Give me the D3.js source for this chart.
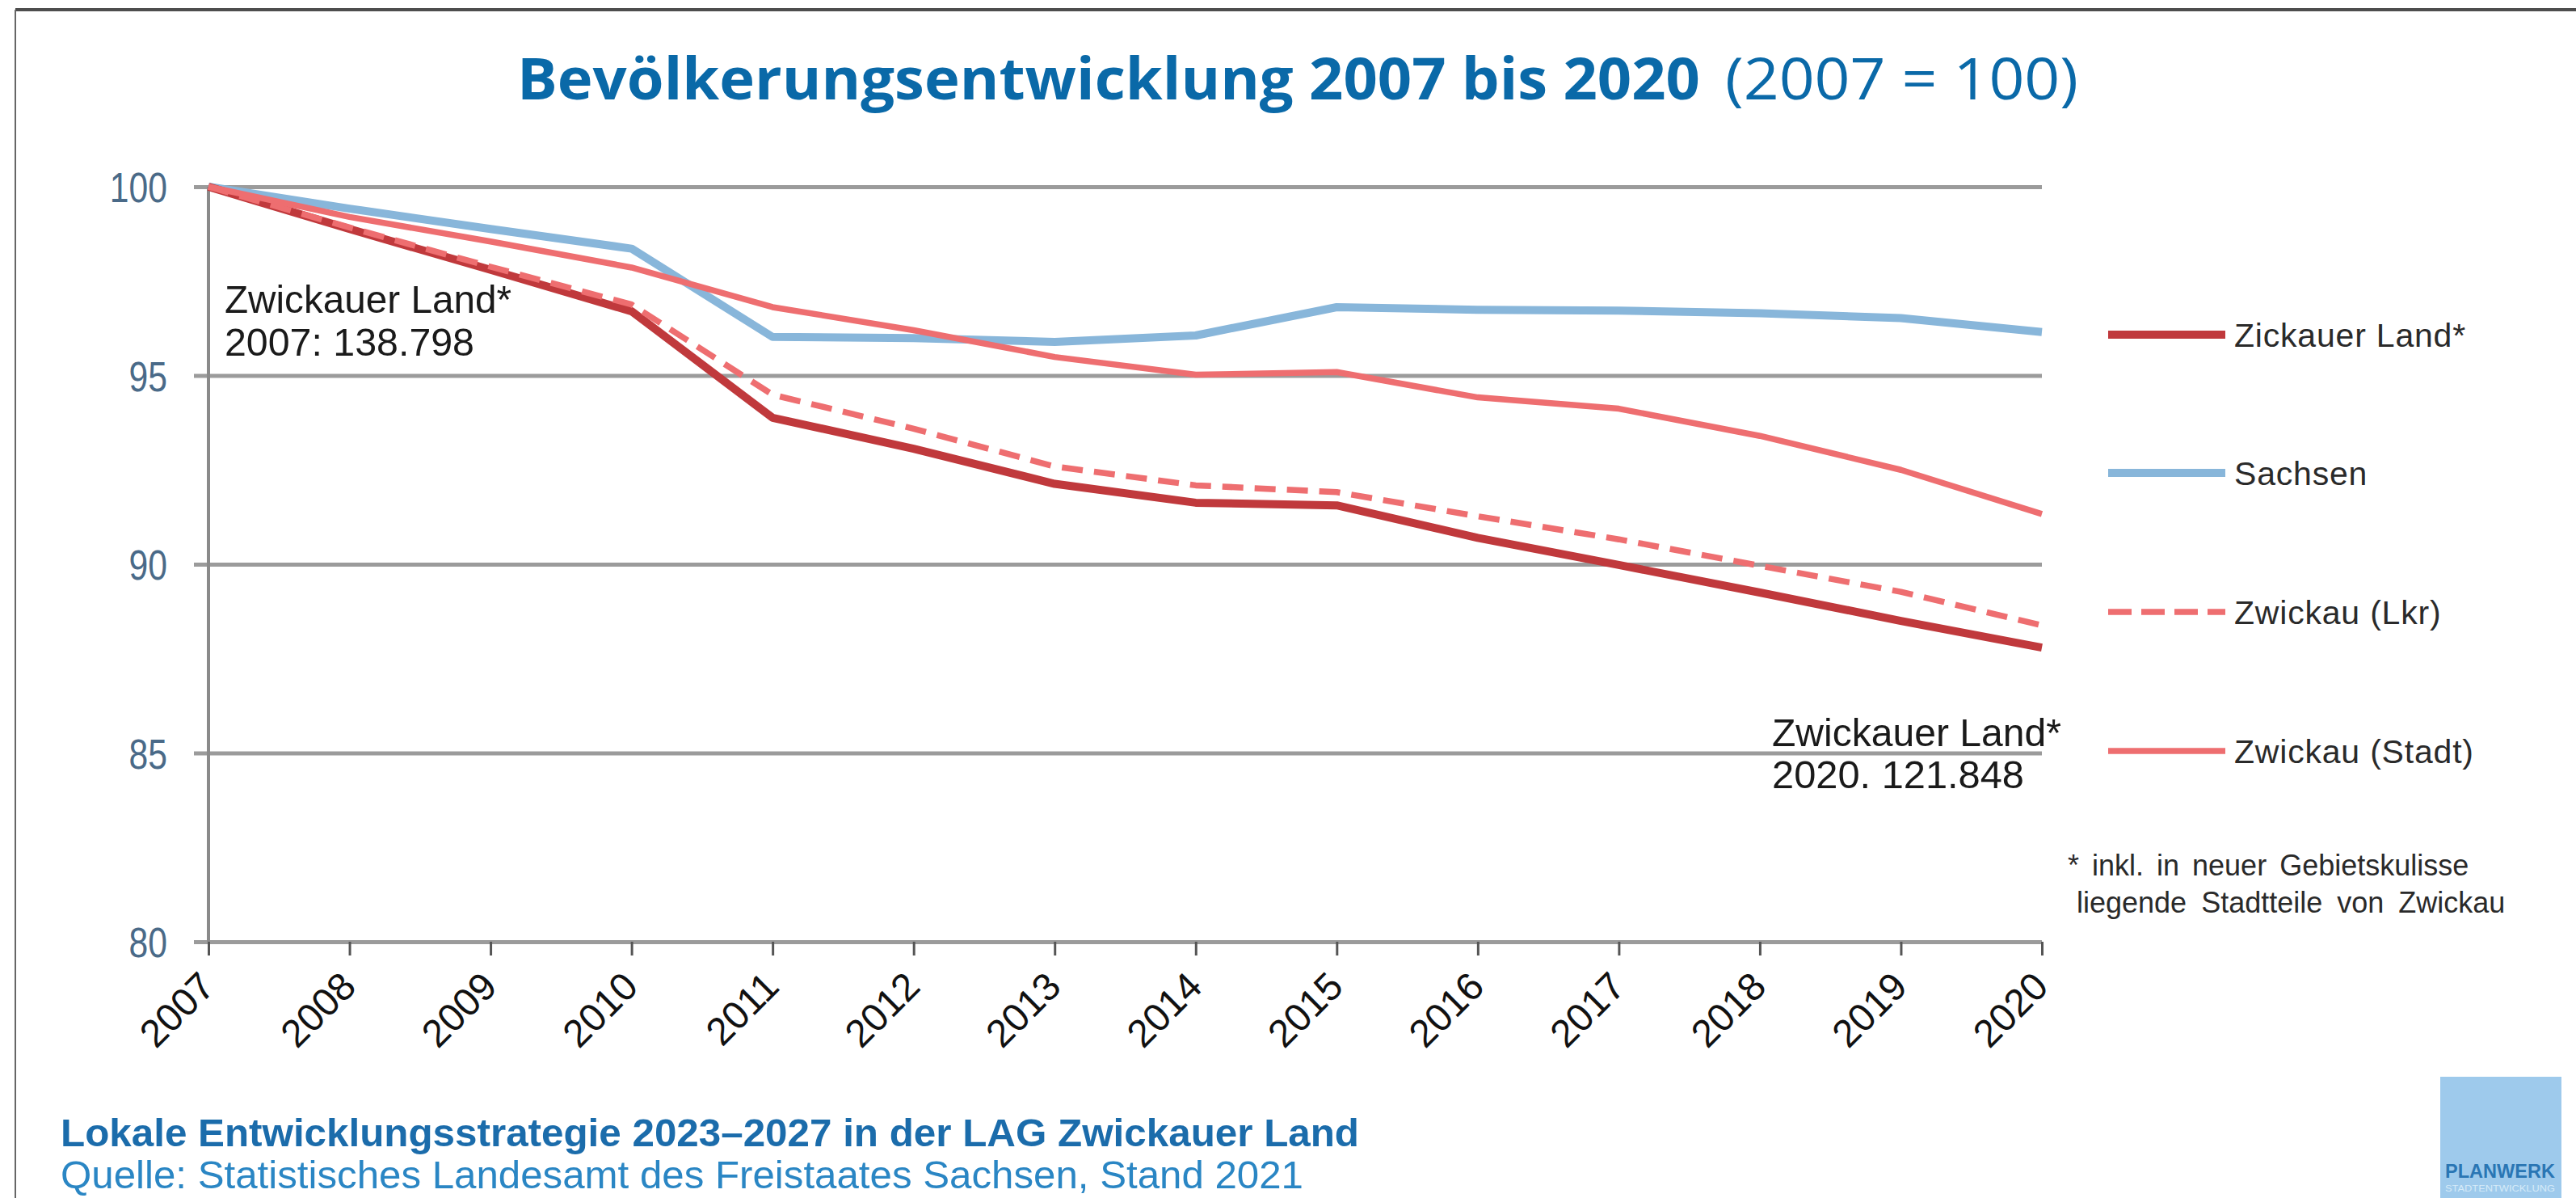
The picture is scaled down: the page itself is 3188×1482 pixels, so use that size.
<!DOCTYPE html>
<html>
<head>
<meta charset="utf-8">
<script src="https://cdn.jsdelivr.net/npm/d3@7"></script>
<style>
  html, body { margin: 0; padding: 0; background: #fff; }
  svg { display: block; }
</style>
</head>
<body>
<script>
// ---------- DATA ----------
const years = [2007, 2008, 2009, 2010, 2011, 2012, 2013, 2014, 2015, 2016, 2017, 2018, 2019, 2020];
const yTicks = [80, 85, 90, 95, 100];
const zwickauerLand = [100, 98.88, 97.8, 96.7, 93.88, 93.06, 92.13, 91.63, 91.56, 90.7, 89.98, 89.25, 88.5, 87.79];
const sachsen       = [100, 99.42, 98.88, 98.36, 96.02, 95.99, 95.89, 96.06, 96.81, 96.74, 96.72, 96.65, 96.52, 96.15];
const zwickauLkr    = [100, 98.92, 97.88, 96.88, 94.49, 93.59, 92.59, 92.09, 91.91, 91.27, 90.66, 89.96, 89.27, 88.38];
const zwickauStadt  = [100, 99.2, 98.55, 97.86, 96.81, 96.2, 95.49, 95.02, 95.09, 94.42, 94.12, 93.4, 92.5, 91.33];
const legendLabels  = ["Zickauer Land*", "Sachsen", "Zwickau (Lkr)", "Zwickau (Stadt)"];

// ---------- LAYOUT ----------
const W = 3188, H = 1482;
const narrow = "'Liberation Sans Narrow','Arial Narrow','Liberation Sans',Arial,sans-serif";
const arial = "'Liberation Sans',Arial,sans-serif";
const cond = "'Open Sans','Noto Sans',sans-serif";

const svg = d3.select("body").append("svg").attr("width", W).attr("height", H);
svg.append("rect").attr("width", W).attr("height", H).attr("fill", "#fff");

// frame
svg.append("line").attr("x1", 19).attr("x2", W).attr("y1", 12).attr("y2", 12)
  .attr("stroke", "#4d4d4d").attr("stroke-width", 4);
svg.append("line").attr("x1", 19).attr("x2", 19).attr("y1", 12).attr("y2", H)
  .attr("stroke", "#666").attr("stroke-width", 2);

// title
svg.append("text").attr("x", 640).attr("y", 123)
  .attr("font-family", cond).attr("font-weight", 700).attr("font-size", 72)
  .attr("fill", "#0a69a8").attr("textLength", 1464).attr("lengthAdjust", "spacingAndGlyphs")
  .text("Bevölkerungsentwicklung 2007 bis 2020");
svg.append("text").attr("x", 2135).attr("y", 123)
  .attr("font-family", cond).attr("font-weight", 400).attr("font-size", 72)
  .attr("fill", "#0a69a8").attr("textLength", 437).attr("lengthAdjust", "spacingAndGlyphs")
  .text("(2007 = 100)");

// scales
const x = d3.scalePoint().domain(years).range([258, 2527]);
const y = d3.scaleLinear().domain([80, 100]).range([1165, 231]);

// gridlines + y labels
const yAxis = d3.axisLeft(y).tickValues(yTicks).tickSize(-(2527 - 240)).tickPadding(0).tickFormat(d3.format("d"));
const gy = svg.append("g").attr("transform", "translate(240,0)").call(yAxis);
gy.select(".domain").remove();
gy.selectAll(".tick line").attr("stroke", "#9b9b9b").attr("stroke-width", 5);
gy.selectAll(".tick text")
  .attr("x", -33).attr("dy", "0.36em")
  .attr("font-family", narrow).attr("font-size", 52).attr("fill", "#4a6a88")
  .each(function () {
    const len = this.getComputedTextLength();
    d3.select(this).attr("textLength", len * 0.82).attr("lengthAdjust", "spacingAndGlyphs");
  });

// y axis vertical line
svg.append("line").attr("x1", 258).attr("x2", 258).attr("y1", y(100)).attr("y2", y(80))
  .attr("stroke", "#8a8a8a").attr("stroke-width", 4);

// x axis ticks + labels
const xAxis = d3.axisBottom(x).tickSize(17).tickFormat(d => String(d));
const gx = svg.append("g").attr("transform", `translate(0,${y(80)})`).call(xAxis);
gx.select(".domain").remove();
gx.selectAll(".tick line").attr("stroke", "#555").attr("stroke-width", 3);
gx.selectAll(".tick text")
  .attr("y", 0).attr("dy", 0)
  .attr("transform", "translate(10,58) rotate(-45)")
  .attr("text-anchor", "end")
  .attr("font-family", arial).attr("font-size", 48).attr("fill", "#111");

// lines
const line = d3.line().x((d, i) => x(years[i])).y(d => y(d));
const series = [
  {vals: sachsen, color: "#88b6da", width: 10, dash: null},
  {vals: zwickauerLand, color: "#c0393c", width: 10, dash: null},
  {vals: zwickauLkr, color: "#ee6e70", width: 7.5, dash: "26,14"},
  {vals: zwickauStadt, color: "#ee6e70", width: 7.5, dash: null}
];
series.forEach(s => {
  svg.append("path").datum(s.vals).attr("d", line)
    .attr("fill", "none").attr("stroke", s.color).attr("stroke-width", s.width)
    .attr("stroke-linejoin", "round")
    .attr("stroke-dasharray", s.dash);
});

// annotations
function annot(x0, yb, txt, len) {
  svg.append("text").attr("x", x0).attr("y", yb)
    .attr("font-family", narrow).attr("font-size", 49).attr("fill", "#1a1a1a")
    .attr("textLength", len).attr("lengthAdjust", "spacingAndGlyphs").text(txt);
}
annot(278, 387, "Zwickauer Land*", 355);
annot(278, 440, "2007: 138.798", 309);
annot(2193, 923, "Zwickauer Land*", 358);
annot(2193, 975, "2020. 121.848", 312);

// legend
const legendStyles = [series[1], series[0], series[2], series[3]];
const legendY = [414, 585, 757, 929];
legendLabels.forEach((lab, i) => {
  const s = legendStyles[i];
  svg.append("line").attr("x1", 2609).attr("x2", 2754).attr("y1", legendY[i]).attr("y2", legendY[i])
    .attr("stroke", s.color).attr("stroke-width", s.width)
    .attr("stroke-dasharray", s.dash ? "29,12" : null);
  svg.append("text").attr("x", 2765).attr("y", legendY[i] + 15)
    .attr("font-family", arial).attr("font-size", 41).attr("letter-spacing", 0.8)
    .attr("fill", "#2a2a2a").text(lab);
});

// footnote
svg.append("text").attr("x", 2559).attr("y", 1083)
  .attr("font-family", arial).attr("font-size", 36).attr("fill", "#2a2a2a").attr("word-spacing", 6)
  .text("* inkl. in neuer Gebietskulisse");
svg.append("text").attr("x", 2570).attr("y", 1129)
  .attr("font-family", arial).attr("font-size", 36).attr("fill", "#2a2a2a").attr("word-spacing", 8)
  .text("liegende Stadtteile von Zwickau");

// footer
svg.append("text").attr("x", 75).attr("y", 1418)
  .attr("font-family", arial).attr("font-weight", 700).attr("font-size", 48)
  .attr("fill", "#1b6cab").attr("textLength", 1607).attr("lengthAdjust", "spacingAndGlyphs")
  .text("Lokale Entwicklungsstrategie 2023–2027 in der LAG Zwickauer Land");
svg.append("text").attr("x", 75).attr("y", 1470)
  .attr("font-family", arial).attr("font-weight", 400).attr("font-size", 48)
  .attr("fill", "#2a86c4").attr("textLength", 1538).attr("lengthAdjust", "spacingAndGlyphs")
  .text("Quelle: Statistisches Landesamt des Freistaates Sachsen, Stand 2021");

// logo
svg.append("rect").attr("x", 3020).attr("y", 1332).attr("width", 150).attr("height", 150).attr("fill", "#9ecaec");
svg.append("text").attr("x", 3026).attr("y", 1457)
  .attr("font-family", arial).attr("font-weight", 700).attr("font-size", 24)
  .attr("fill", "#2a76b4").attr("textLength", 136).attr("lengthAdjust", "spacingAndGlyphs").text("PLANWERK");
svg.append("text").attr("x", 3026).attr("y", 1474)
  .attr("font-family", arial).attr("font-size", 10)
  .attr("fill", "#d6eaf8").attr("textLength", 136).attr("lengthAdjust", "spacingAndGlyphs").text("STADTENTWICKLUNG");
</script>
</body>
</html>
